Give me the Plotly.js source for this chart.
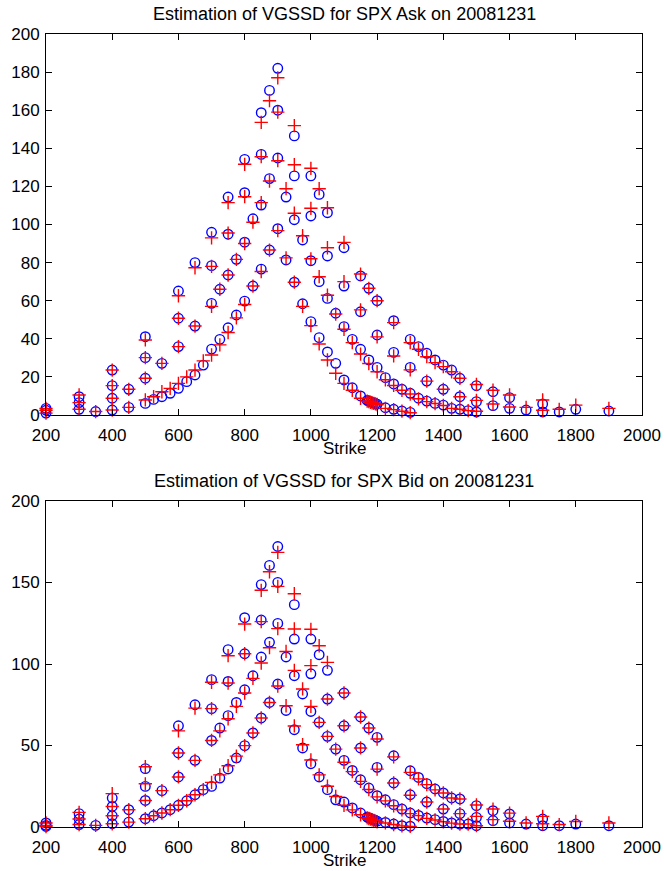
<!DOCTYPE html>
<html>
<head>
<meta charset="utf-8">
<script src="https://cdn.plot.ly/plotly-3.0.1.min.js"></script>
<style>
  html, body { margin: 0; padding: 0; background: #fff; }
  #chart { width: 664px; height: 871px; }
</style>
</head>
<body>
<div id="chart"></div>
<script>
// SPX option prices on 2008-12-31: market quotes (circles) vs VGSSD model fit (plus signs),
// grouped by maturity (m1 = longest ... m4 = shortest).

// ---- strikes per maturity ----
const strikesM1 = [200,300,400,500,600,650,700,750,800,850,875,900,950,1000,1025,1050,1100,1150,1175,1200,1250,1300,1325,1350,1375,1400,1425,1450,1500,1550,1600,1700,1800,1900];
const strikesM2 = [200,300,400,500,600,700,750,800,850,900,950,1000,1050,1100,1150,1200,1250,1300,1350,1400,1450,1500,1550,1600,1650,1700,1750];
const strikesM3 = [200,300,400,450,500,550,600,650,700,725,750,775,800,825,850,875,900,925,950,975,1000,1025,1050,1075,1100,1125,1150,1175,1200,1225,1250,1275,1300,1325,1350,1375,1400,1425,1450,1475,1500];
const strikesM4 = [350,400,450,500,525,550,575,600,625,650,675,700,725,750,775,800,825,850,875,900,925,950,975,1000,1025,1050,1075,1100,1125,1150,1170,1175,1180,1185,1190,1195,1200,1225,1250,1275,1300];

// ---- Ask prices ----
const askMarketM1 = [3.5,9.6,23.6,41.1,65.1,80.0,95.9,114.4,134.2,158.7,170.4,182.0,146.5,125.5,115.8,106.2,87.8,73.0,66.5,60.0,49.5,39.7,35.9,32.4,28.9,26.2,23.6,19.3,15.4,12.2,9.1,5.8,3.0,2.1];
const askModelM1  = [3.5,10.5,23.6,39.4,62.6,77.3,93.0,111.5,131.6,153.6,165.0,177.0,151.9,129.5,118.8,108.8,90.6,74.0,66.5,60.0,48.5,38.0,34.5,30.6,27.5,25.4,22.7,19.3,16.0,13.0,10.5,7.9,5.2,3.5];

const askMarketM2 = [2.5,6.5,15.4,30.1,50.8,78.4,94.9,116.7,136.8,160.0,125.5,104.5,83.5,67.7,54.2,42.0,32.9,25.0,17.8,13.5,9.6,7.0,4.9,3.5,2.6,1.6,1.6];
const askModelM2  = [2.5,6.5,15.4,30.1,50.8,78.0,95.5,114.6,135.6,159.0,131.4,108.5,87.8,70.0,55.2,41.0,31.0,23.7,17.8,13.5,9.6,7.7,5.8,4.2,4.0,2.5,3.0];

const askMarketM3 = [1.0,3.0,8.8,13.5,19.3,27.1,35.9,46.7,58.6,66.0,73.5,81.7,90.7,103.0,110.2,124.1,134.9,114.4,102.5,91.9,81.0,70.0,61.2,53.4,46.4,39.7,34.5,28.9,25.0,19.6,16.3,13.5,11.4,8.8,7.3,6.1,5.2,3.5,3.0,2.3,1.6];
const askModelM3  = [1.0,3.0,8.8,13.5,19.3,27.1,35.9,46.7,57.0,66.0,73.5,81.7,90.0,101.2,111.5,122.8,133.5,118.8,105.9,94.1,82.0,72.6,62.9,53.0,45.0,38.0,32.0,27.0,22.7,18.5,15.5,13.0,11.0,8.5,7.0,6.0,5.0,3.5,3.0,2.3,2.0];

const askMarketM4 = [1.8,2.6,4.0,6.1,8.2,9.6,11.4,14.0,17.5,21.0,26.2,34.6,39.7,45.8,52.5,59.8,67.7,76.6,86.6,97.8,81.4,69.7,58.4,49.0,40.6,33.1,27.1,18.4,14.3,10.0,7.6,7.3,7.0,6.6,6.3,6.0,5.7,3.8,3.0,2.1,1.4];
const askModelM4  = [1.8,2.6,4.0,7.9,9.6,12.2,14.0,16.6,20.0,23.6,28.4,31.5,36.8,43.3,51.0,58.0,67.7,75.3,86.6,96.8,82.5,69.7,57.0,46.9,37.3,28.9,21.9,16.6,13.0,8.8,7.3,7.0,6.7,6.4,6.1,5.8,5.5,3.5,2.8,2.0,1.2];

// ---- Bid prices ----
const bidMarketM1 = [2.5,8.2,17.8,35.8,62.1,75.0,90.4,108.8,128.4,148.7,160.5,172.1,136.4,115.3,105.7,96.1,82.2,67.5,60.7,55.0,43.7,34.5,30.4,26.6,23.3,20.9,17.8,17.2,13.1,10.0,8.0,4.9,1.8,0.8];
const bidModelM1  = [2.5,9.0,20.5,37.0,59.0,72.9,88.8,105.1,124.5,145.2,156.6,168.5,143.1,121.3,111.2,101.0,82.2,67.5,60.7,54.0,43.0,33.5,29.5,26.0,22.8,20.9,17.8,17.2,13.5,11.0,8.5,6.5,3.4,2.5];

const bidMarketM2 = [1.0,4.9,12.6,24.9,45.4,72.6,89.3,106.3,127.0,150.1,115.3,94.0,78.5,62.1,48.5,36.6,27.0,19.8,15.3,11.0,8.2,5.9,3.9,2.5,1.8,0.8,0.8];
const bidModelM2  = [1.0,4.9,12.6,26.5,45.4,72.6,88.3,106.3,126.0,147.6,121.5,99.0,78.5,62.1,48.5,35.5,27.0,19.5,15.3,11.0,8.2,6.5,4.5,3.5,2.5,2.0,1.5];

const bidMarketM3 = [0.3,1.5,6.9,10.6,16.3,22.3,30.7,40.9,53.1,60.7,68.3,76.4,84.2,92.8,104.3,113.3,124.9,104.3,92.8,81.6,70.9,64.2,55.6,47.8,40.9,34.7,29.0,23.9,19.2,16.7,13.7,11.0,8.6,7.1,5.5,4.5,3.4,2.5,1.8,1.8,0.8];
const bidModelM3  = [0.3,1.5,6.9,10.6,16.3,22.3,30.7,40.9,53.1,59.0,66.4,74.0,82.2,91.2,100.6,110.0,121.7,107.7,96.1,84.7,74.0,64.2,55.6,47.8,39.7,34.0,28.0,23.0,18.5,16.0,13.0,10.5,8.2,7.0,5.3,4.3,3.2,2.4,1.8,1.8,0.8];

const bidMarketM4 = [1.0,2.0,3.0,5.1,6.9,8.6,10.6,13.3,16.1,19.8,22.9,24.9,30.0,35.6,42.3,49.9,57.7,66.9,76.4,87.7,71.5,59.7,48.5,38.8,30.7,22.9,16.7,15.3,11.7,8.6,6.0,5.6,5.2,4.8,4.4,4.0,3.6,2.8,1.8,0.8,0.5];
const bidModelM4  = [1.0,2.0,3.0,5.1,6.9,8.6,10.6,13.3,16.1,19.8,22.9,27.4,32.0,37.6,43.5,49.9,57.7,66.9,76.4,86.5,74.4,62.0,50.5,41.1,32.0,25.0,18.7,13.3,10.5,7.5,5.6,5.2,4.8,4.4,4.0,3.6,3.2,2.5,1.5,0.7,0.4];

// ---- axis ticks and titles ----
const strikeTicks = [200,400,600,800,1000,1200,1400,1600,1800,2000];
const askPriceTicks = [0,20,40,60,80,100,120,140,160,180,200];
const bidPriceTicks = [0,50,100,150,200];
const askTitle = 'Estimation of VGSSD for SPX Ask on 20081231';
const bidTitle = 'Estimation of VGSSD for SPX Bid on 20081231';
const xLabel = 'Strike';

const strikeSets = [strikesM1, strikesM2, strikesM3, strikesM4];
const askMarket = [askMarketM1, askMarketM2, askMarketM3, askMarketM4];
const askModel  = [askModelM1, askModelM2, askModelM3, askModelM4];
const bidMarket = [bidMarketM1, bidMarketM2, bidMarketM3, bidMarketM4];
const bidModel  = [bidModelM1, bidModelM2, bidModelM3, bidModelM4];

const concat = arrs => [].concat(...arrs);

function circles(xs, ys, xa, ya) {
  return {
    type: 'scatter', mode: 'markers', x: xs, y: ys, xaxis: xa, yaxis: ya,
    cliponaxis: false, hoverinfo: 'skip', showlegend: false,
    marker: { symbol: 'circle-open', size: 9.5, color: '#0000ff', line: { width: 1.4, color: '#0000ff' } }
  };
}
function pluses(xs, ys, xa, ya) {
  return {
    type: 'scatter', mode: 'markers', x: xs, y: ys, xaxis: xa, yaxis: ya,
    cliponaxis: false, hoverinfo: 'skip', showlegend: false,
    marker: { symbol: 'cross-thin', size: 9.5, color: '#ff0000', line: { width: 1.4, color: '#ff0000' } }
  };
}

const allStrikes = concat(strikeSets);
const traces = [
  circles(allStrikes, concat(askMarket), 'x', 'y'),
  pluses(allStrikes, concat(askModel), 'x', 'y'),
  circles(allStrikes, concat(bidMarket), 'x2', 'y2'),
  pluses(allStrikes, concat(bidModel), 'x2', 'y2')
];

const font = { family: 'Liberation Sans, Arial, Helvetica, sans-serif', size: 17, color: '#000' };

function xAxis(anchor) {
  return {
    anchor: anchor, domain: [0, 1], range: [200, 2000],
    tickmode: 'array', tickvals: strikeTicks, ticktext: strikeTicks.map(String),
    ticks: 'inside', ticklen: 6, tickwidth: 1, tickcolor: '#000',
    showline: true, linecolor: '#000', linewidth: 1, mirror: 'ticks',
    showgrid: false, zeroline: false, ticklabelstandoff: 5,
    tickfont: font
  };
}
function yAxis(anchor, domain, ticks) {
  return {
    anchor: anchor, domain: domain, range: [0, 200],
    tickmode: 'array', tickvals: ticks, ticktext: ticks.map(String),
    ticks: 'inside', ticklen: 6, tickwidth: 1, tickcolor: '#000',
    showline: true, linecolor: '#000', linewidth: 1, mirror: 'ticks',
    showgrid: false, zeroline: false, ticklabelstandoff: 2,
    tickfont: font
  };
}

// plot area spans y 34..827 px; top panel 34..415, bottom panel 501..827
const paperY = px => (827 - px) / 793;
const textNote = (text, py, size) => ({
  text: text, xref: 'paper', yref: 'paper', x: 0.5, y: paperY(py),
  xanchor: 'center', yanchor: 'middle', showarrow: false, font: { ...font, size: size }
});

const layout = {
  width: 664, height: 871,
  margin: { l: 46, r: 22, t: 34, b: 44 },
  paper_bgcolor: '#fff', plot_bgcolor: '#fff',
  font: font,
  xaxis: xAxis('y'),
  yaxis: yAxis('x', [paperY(415), 1], askPriceTicks),
  xaxis2: xAxis('y2'),
  yaxis2: yAxis('x2', [0, paperY(501)], bidPriceTicks),
  annotations: [
    textNote(askTitle, 14, 18),
    textNote(xLabel, 448, 17),
    textNote(bidTitle, 481, 18),
    textNote(xLabel, 860, 17)
  ]
};

Plotly.newPlot('chart', traces, layout, { staticPlot: true, displayModeBar: false });
</script>
</body>
</html>
